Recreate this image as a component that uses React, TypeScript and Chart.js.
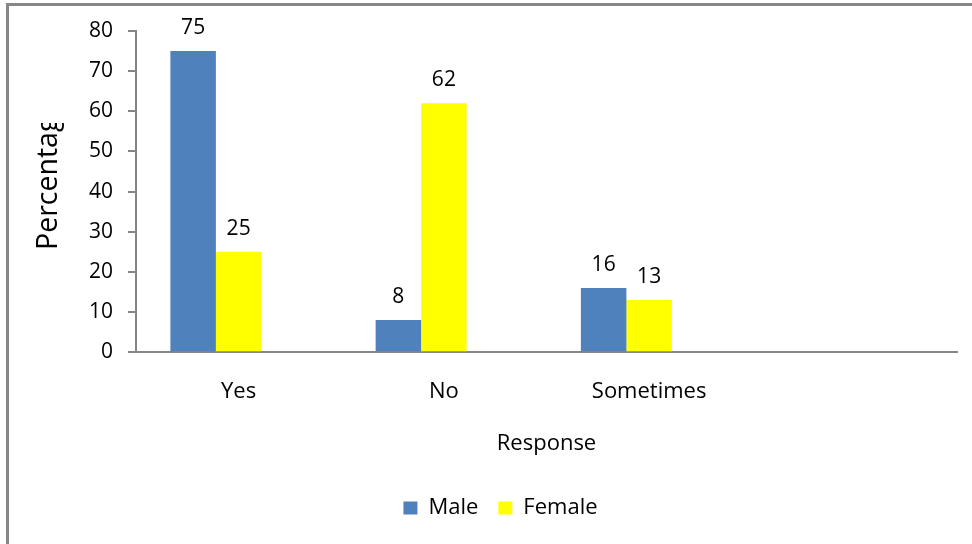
import React, { useEffect, useRef } from 'react';
import { Chart, registerables } from 'chart.js';

Chart.register(...registerables);

const categories = ['Yes', 'No', 'Sometimes', ''];
const maleValues = [75, 8, 16, null];
const femaleValues = [25, 62, 13, null];
const blankSeries = [null, null, null, null];
const seriesNames = ['Male', 'Female', ''];
const yMin = 0;
const yMax = 80;
const yStep = 10;
const yAxisTitle = 'Percentage';
const xAxisTitle = 'Response';

const FONT = '"Open Sans", "DejaVu Sans", sans-serif';
const AXIS_GREY = '#868686';

const framePlugin = {
  id: 'frame',
  beforeDraw(chart: any) {
    const ctx = chart.ctx;
    ctx.save();
    ctx.fillStyle = '#878787';
    ctx.fillRect(6, 3, 3, chart.height - 3);
    ctx.fillRect(6, 3, chart.width - 6, 3);
    ctx.restore();
  },
};

const valueLabelPlugin = {
  id: 'valueLabels',
  afterDatasetsDraw(chart: any) {
    const ctx = chart.ctx;
    ctx.save();
    ctx.font = `21px ${FONT}`;
    ctx.fillStyle = '#000000';
    ctx.textAlign = 'center';
    ctx.textBaseline = 'alphabetic';
    chart.data.datasets.forEach((ds: any, di: number) => {
      const meta = chart.getDatasetMeta(di);
      meta.data.forEach((el: any, i: number) => {
        const v = ds.data[i];
        if (v === null || v === undefined) return;
        ctx.fillText(String(v), el.x, el.y - 17);
      });
    });
    ctx.restore();
  },
};

const yTitlePlugin = {
  id: 'yTitleClipped',
  afterDraw(chart: any) {
    const ctx = chart.ctx;
    ctx.save();
    ctx.beginPath();
    ctx.rect(0, 123, 120, chart.height - 123);
    ctx.clip();
    ctx.translate(57, 250);
    ctx.rotate(-Math.PI / 2);
    ctx.font = `28.5px ${FONT}`;
    ctx.fillStyle = '#000000';
    ctx.textAlign = 'left';
    ctx.textBaseline = 'alphabetic';
    ctx.fillText(yAxisTitle, 0, 0);
    ctx.restore();
  },
};

export default function App() {
  const canvasRef = useRef<HTMLCanvasElement | null>(null);

  useEffect(() => {
    document.body.style.margin = '0';
    const canvas = canvasRef.current;
    if (!canvas) return;
    const chart = new Chart(canvas, {
      type: 'bar',
      data: {
        labels: categories,
        datasets: [
          {
            label: seriesNames[0],
            data: maleValues,
            backgroundColor: '#4F81BD',
            borderWidth: 0,
          },
          {
            label: seriesNames[1],
            data: femaleValues,
            backgroundColor: '#FFFF00',
            borderWidth: 0,
          },
          {
            label: seriesNames[2],
            data: blankSeries,
            backgroundColor: 'rgba(0,0,0,0)',
            borderWidth: 0,
          },
        ],
      },
      options: {
        animation: false,
        responsive: true,
        maintainAspectRatio: false,
        categoryPercentage: 0.665,
        barPercentage: 1,
        layout: {
          padding: { left: 44, right: 15, top: 31, bottom: 15 },
        },
        plugins: {
          tooltip: { enabled: false },
          title: { display: false },
          legend: {
            display: true,
            position: 'bottom',
            labels: {
              filter: (item: any) => item.text !== '',
              boxWidth: 14,
              boxHeight: 13,
              padding: 20,
              color: '#000000',
              font: { family: FONT, size: 22 },
            },
          },
        },
        scales: {
          x: {
            type: 'category',
            offset: true,
            grid: { display: false, drawTicks: false },
            border: { display: true, color: AXIS_GREY, width: 2 },
            ticks: {
              color: '#000000',
              font: { family: FONT, size: 22 },
              padding: 26,
              maxRotation: 0,
              autoSkip: false,
            },
            title: {
              display: true,
              text: xAxisTitle,
              color: '#000000',
              font: { family: FONT, size: 22 },
              padding: { top: 0, bottom: 20 },
            },
          },
          y: {
            min: yMin,
            max: yMax,
            afterFit: (scale: any) => {
              scale.width = 92;
            },
            ticks: {
              stepSize: yStep,
              color: '#000000',
              font: { family: FONT, size: 21 },
              padding: 15,
            },
            grid: {
              display: true,
              drawOnChartArea: false,
              drawTicks: true,
              tickLength: 8,
              color: AXIS_GREY,
              lineWidth: 2,
            },
            border: { display: true, color: AXIS_GREY, width: 2 },
          },
        },
      },
      plugins: [framePlugin, valueLabelPlugin, yTitlePlugin],
    });
    return () => chart.destroy();
  }, []);

  return (
    <div style={{ position: 'relative', width: 972, height: 544 }}>
      <canvas ref={canvasRef} />
    </div>
  );
}
